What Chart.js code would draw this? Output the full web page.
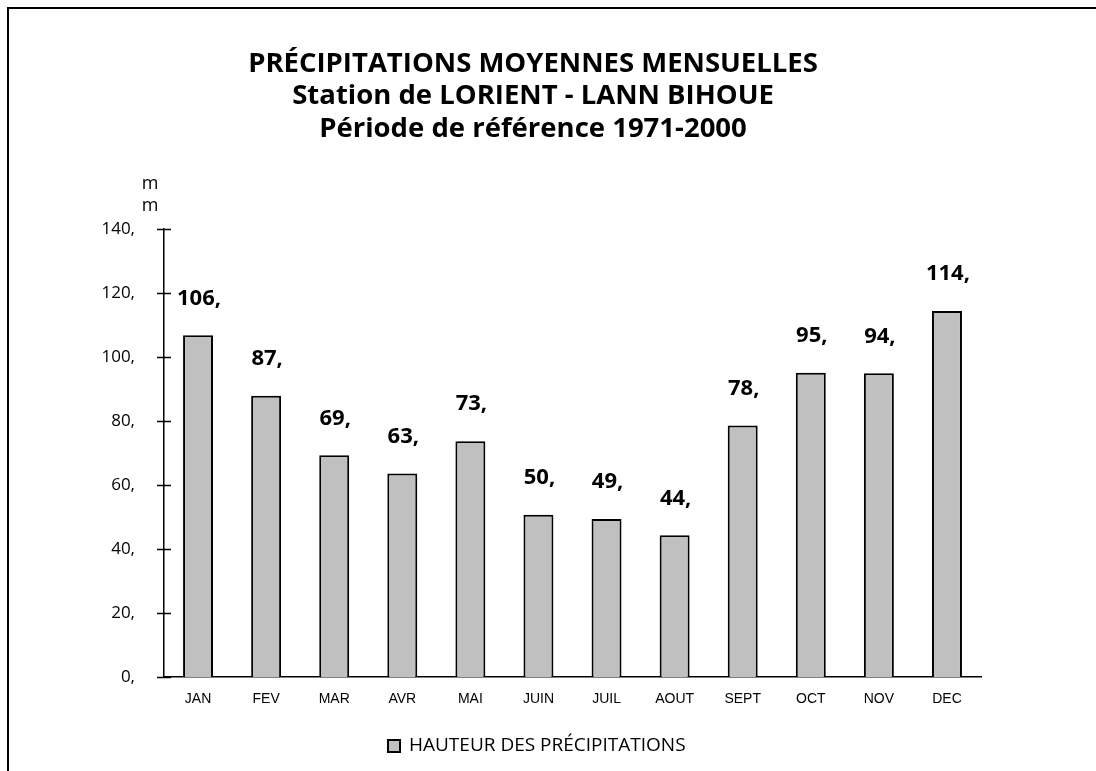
<!DOCTYPE html>
<html lang="fr">
<head>
<meta charset="UTF-8">
<title>Précipitations moyennes mensuelles - Lorient Lann Bihoue</title>
<script src="https://cdn.jsdelivr.net/npm/chart.js"></script>
<style>
  body { margin: 0; background: #fff; }
  #wrap { position: relative; width: 1096px; height: 771px; overflow: hidden; }
  #frame { position: absolute; left: 7px; top: 7px; width: 1200px; height: 900px;
           border-top: 2px solid #000; border-left: 2px solid #000; }
  canvas { position: absolute; left: 0; top: 0; }
</style>
</head>
<body>
<div id="wrap">
  <div id="frame"></div>
  <canvas id="chart" width="1096" height="771"></canvas>
</div>
<script>
// data
const months = ['JAN', 'FEV', 'MAR', 'AVR', 'MAI', 'JUIN', 'JUIL', 'AOUT', 'SEPT', 'OCT', 'NOV', 'DEC'];
const rainfall = [106.8, 87.9, 69.3, 63.6, 73.7, 50.7, 49.4, 44.3, 78.6, 95.1, 94.9, 114.4];
const yMin = 0, yMax = 140, yStep = 20;
const titleLines = ['PRÉCIPITATIONS MOYENNES MENSUELLES', 'Station de LORIENT - LANN BIHOUE', 'Période de référence 1971-2000'];
const unitLabel = ['m', 'm'];
const seriesName = 'HAUTEUR DES PRÉCIPITATIONS';

const barFill = '#c0c0c0';

// title, unit, legend, value labels and the crossing y ticks
const decor = {
    id: 'decor',
    afterDraw(chart) {
        const ctx = chart.ctx;
        const area = chart.chartArea;
        const y = chart.scales.y;
        ctx.save();
        ctx.fillStyle = '#000';
        ctx.strokeStyle = '#000';

        // y ticks cross the axis
        ctx.lineWidth = 1.5;
        y.ticks.forEach(t => {
            const py = Math.round(y.getPixelForValue(t.value)) + 0.5;
            ctx.beginPath();
            ctx.moveTo(area.left - 7, py);
            ctx.lineTo(area.left + 7, py);
            ctx.stroke();
        });

        // title
        ctx.textAlign = 'center';
        ctx.textBaseline = 'middle';
        ctx.font = 'bold 27.5px "Open Sans"';
        titleLines.forEach((line, i) => ctx.fillText(line, 533, 64 + i * 32.5));

        // unit
        ctx.font = '18px "Open Sans"';
        unitLabel.forEach((u, i) => ctx.fillText(u, 150, 184 + i * 22));

        // value labels
        ctx.font = 'bold 22px "Open Sans"';
        const meta = chart.getDatasetMeta(0);
        meta.data.forEach((bar, i) => {
            ctx.fillText(Math.floor(rainfall[i]) + ',', bar.x + 1, bar.y - 37);
        });

        // legend
        const lx = 388, ly = 746;
        ctx.fillStyle = barFill;
        ctx.fillRect(lx, ly - 6, 12, 12);
        ctx.lineWidth = 2;
        ctx.strokeRect(lx, ly - 6, 12, 12);
        ctx.fillStyle = '#000';
        ctx.textAlign = 'left';
        ctx.font = '19px "Open Sans"';
        ctx.fillText(seriesName, 409, ly);
        ctx.restore();
    }
};

new Chart(document.getElementById('chart'), {
    type: 'bar',
    data: {
        labels: months,
        datasets: [{
            label: seriesName,
            data: rainfall,
            backgroundColor: barFill,
            borderColor: '#000',
            borderWidth: 2,
            borderSkipped: 'bottom',
            barPercentage: 0.44,
            categoryPercentage: 1
        }]
    },
    options: {
        responsive: false,
        animation: false,
        layout: { padding: { top: 229, right: 115, bottom: 0, left: 0 } },
        plugins: {
            legend: { display: false },
            title: { display: false },
            tooltip: { enabled: false }
        },
        scales: {
            x: {
                grid: { display: false, drawTicks: false },
                border: { display: true, color: '#000', width: 1.5 },
                ticks: { color: '#000', font: { family: '"Liberation Sans"', size: 14 }, padding: 14 },
                afterFit(scale) { scale.height = 94; }
            },
            y: {
                min: yMin,
                max: yMax,
                grid: { display: false, drawTicks: false },
                border: { display: true, color: '#000', width: 1.5 },
                ticks: {
                    stepSize: yStep,
                    color: '#000',
                    padding: 29,
                    font: { family: '"Open Sans"', size: 17 },
                    callback: v => v + ','
                },
                afterFit(scale) { scale.width = 164; }
            }
        }
    },
    plugins: [decor]
});
</script>
</body>
</html>
